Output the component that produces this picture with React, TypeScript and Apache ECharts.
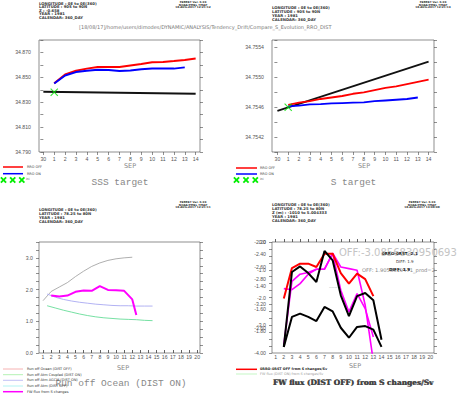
import React, { useEffect, useRef } from 'react';
import * as echarts from 'echarts';

// ---------- tick labels ----------
const topTickDays = [0, 1, 2, 3, 4, 5, 6, 7, 8, 9, 10, 11, 12, 13, 14];
const topTickLabels = ['30', '1', '2', '3', '4', '5', '6', '7', '8', '9', '10', '11', '12', '13', '14'];
const bottomTickDays = [1, 2, 3, 4, 5, 6, 7, 8, 9, 10, 11, 12, 13, 14, 15, 16, 17, 18, 19, 20];

// ---------- SSS target (top-left) ----------
const sssOffDays = [1, 2, 3, 4, 5, 6, 7, 8, 9, 10, 11, 12, 13, 14];
const sssRroOff = [34.8453, 34.8523, 34.8553, 34.857, 34.8583, 34.8583, 34.8583, 34.8596, 34.8608, 34.8621, 34.8624, 34.8632, 34.864, 34.8651];
const sssOnDays = [1, 2, 3, 4, 5, 6, 7, 8, 9, 10, 11, 12, 13];
const sssRroOn = [34.845, 34.8515, 34.8542, 34.8553, 34.8561, 34.8558, 34.855, 34.8555, 34.8564, 34.857, 34.857, 34.857, 34.858];
const sssTargetDays = [0, 14];
const sssTarget = [34.8384, 34.8368];
const sssIniDays = [1];
const sssIni = [34.838];

// ---------- S target (top-right) ----------
const sOffDays = [1, 2, 3, 4, 5, 6, 7, 8, 9, 10, 11, 12, 13, 14];
const sRroOff = [34.75463, 34.75466, 34.75468, 34.75471, 34.75473, 34.75475, 34.75478, 34.7548, 34.75483, 34.75486, 34.75488, 34.75491, 34.75494, 34.75497];
const sOnDays = [1, 2, 3, 4, 5, 6, 7, 8, 9, 10, 11, 12, 13];
const sRroOn = [34.75461, 34.75462, 34.754637, 34.75464, 34.75465, 34.754655, 34.75466, 34.754665, 34.75468, 34.75469, 34.7547, 34.75471, 34.75473];
const sTargetDays = [0, 14];
const sTarget = [34.75455, 34.75521];
const sIniDays = [1];
const sIni = [34.7546];

// ---------- Run off (bottom-left) ----------
const grayDays = [1, 2, 3, 4, 5, 6, 7, 8, 9, 10, 11, 12];
const grayVals = [1.65, 1.94, 2.08, 2.22, 2.41, 2.58, 2.73, 2.84, 2.92, 2.97, 3.0, 3.02];
const atmDays = [1.5, 2.5, 3.5, 4.5, 5.5, 6.5, 7.5, 8.5, 9.5, 10.5, 11.5, 12.5, 13.5, 14.5];
const atmActiveOn = [1.86, 1.76, 1.69, 1.64, 1.6, 1.57, 1.54, 1.52, 1.5, 1.49, 1.49, 1.48, 1.48, 1.48];
const atmCoupledOn = [1.49, 1.42, 1.35, 1.29, 1.23, 1.18, 1.14, 1.11, 1.09, 1.07, 1.06, 1.05, 1.03, 1.02];
const fwDays = [2, 3, 4, 5, 6, 7, 8, 9, 10, 11, 12, 12.5];
const fwFromS = [1.81, 1.78, 1.81, 1.93, 1.97, 1.96, 2.11, 1.99, 1.98, 1.96, 1.69, 1.2];

// ---------- FW flux (bottom-right) ----------
const brDays = [2, 3, 4, 5, 6, 7, 8, 9, 10, 11, 12, 13];
const brDays14 = [2, 3, 4, 5, 6, 7, 8, 9, 10, 11, 12, 13, 14];
const brRed = [-2.04, -0.94, -0.78, -0.78, -0.9, -0.42, -0.42, -1.12, -1.5, -1.14, -1.34, -1.95];
const brBlackUpper = [-3.78, -1.08, -0.88, -1.12, -1.44, -0.32, -0.66, -1.92, -2.67, -1.95, -1.84, -2.1, -3.52];
const brBlackLower = [-3.78, -2.7, -2.58, -2.7, -2.85, -2.34, -2.5, -3.09, -3.45, -3.06, -3.03, -3.16, -3.78];
const brMag1 = [-1.68, -1.72, -1.5, -1.16, -0.98, -0.98, -0.4, -0.9, -0.96, -1.02, -2.28, -4.3];
const brMag2 = [-3.7, -1.42, -1.16, -1.1, -0.98, -0.98, -0.42, -1.74, -2.52, -1.86, -2.4, -3.42];
const brAxisALabels = [-2.2, -2.4, -2.6, -2.8, -3.2, -3.6, -4.0];
const brAxisCLabels = [-1.4, -1.6, -1.8];

const zip = (xs: number[], ys: number[]) => xs.map((x, i) => [x, ys[i]]);

const LBL = { fontFamily: 'Liberation Sans, DejaVu Sans, sans-serif', fontSize: 5.2, color: '#555' };
const TICK = { color: '#444', width: 0.6 };
const XSYM = 'path://M0,1L1,0L5,4L9,0L10,1L6,5L10,9L9,10L5,6L1,10L0,9L4,5Z';

function xAxisDef(gridIndex: number, min: number, max: number, ticks: number[], fmt: any, position: string, showLabel: boolean, inside: boolean, margin: number) {
  return {
    type: 'value', gridIndex, min, max, position,
    axisLine: { show: false }, splitLine: { show: false },
    axisTick: { show: true, customValues: ticks, length: 3, inside, lineStyle: TICK },
    axisLabel: { show: showLabel, customValues: ticks, formatter: fmt, margin, ...LBL },
  };
}

function yAxisDef(gridIndex: number, min: number, max: number, interval: number, fmt: any, position: string, showLabel: boolean, showTick: boolean, margin: number) {
  return {
    type: 'value', gridIndex, min, max, interval, position,
    axisLine: { show: false }, splitLine: { show: false },
    axisTick: { show: showTick, length: 3, inside: false, lineStyle: TICK },
    axisLabel: { show: showLabel, formatter: fmt, margin, ...LBL },
  };
}

function txt(text: string, x: number, y: number, size: number, opts: any = {}) {
  return {
    type: 'text', x, y, z: 100,
    style: {
      text, fontSize: size, fontFamily: opts.family || 'DejaVu Sans, sans-serif',
      fill: opts.fill || '#222', fontWeight: opts.weight || 'normal',
      align: opts.align || 'left', verticalAlign: 'middle',
    },
  };
}
function ln(x1: number, y1: number, x2: number, y2: number, stroke: string, w: number) {
  return { type: 'line', z: 100, shape: { x1, y1, x2, y2 }, style: { stroke, lineWidth: w } };
}
function xMark(cx: number, cy: number, s: number) {
  return [ln(cx - s, cy - s, cx + s, cy + s, '#00ee00', 1.8), ln(cx - s, cy + s, cx + s, cy - s, '#00ee00', 1.8)];
}

function header(x: number, ys: number[], lines: string[]) {
  return lines.map((l, i) => txt(l, x, ys[i], 3.8, { weight: 'bold', fill: '#333' }));
}
function ferret(cx: number, y0: number, date: string) {
  return ['FERRET Ver. 6.93', 'NOAA/PMEL TMAP', date].map((l, i) => txt(l, cx, y0 + i * 2.6, 2.8, { align: 'center', weight: 'bold', fill: '#333' }));
}

function buildOption() {
  const topFmt = (v: number) => { const i = topTickDays.indexOf(Math.round(v)); return i >= 0 ? topTickLabels[i] : ''; };
  const botFmt = (v: number) => String(Math.round(v));

  const xAxis = [
    xAxisDef(0, -0.4, 14.4, topTickDays, topFmt, 'bottom', true, false, 4),
    xAxisDef(1, -0.5, 14.5, topTickDays, topFmt, 'bottom', true, false, 4),
    xAxisDef(2, 0.5, 20.35, bottomTickDays, botFmt, 'bottom', true, true, 1),
    xAxisDef(2, 0.5, 20.35, bottomTickDays, botFmt, 'top', false, false, 1),
    xAxisDef(3, 0.55, 20.45, bottomTickDays, botFmt, 'bottom', true, true, 1),
    xAxisDef(3, 0.55, 20.45, bottomTickDays, botFmt, 'top', false, false, 1),
  ];

  const fmtTL = (v: number) => { const k = Math.round((v - 34.79) / 0.01); return k % 2 === 0 ? v.toFixed(3) : ''; };
  const fmtTR = (v: number) => { const k = Math.round((v - 34.754) / 0.0002); return k % 2 === 1 && k < 8 ? v.toFixed(4) : ''; };
  const fmtBL = (v: number) => { const k = Math.round(v * 4); return k % 4 === 0 ? v.toFixed(1) : ''; };
  const fmtBRB = (v: number) => { const k = Math.round(v * 4); return k % 4 === 0 && k > -16 ? (k === 0 ? '0.0' : v.toFixed(1)) : ''; };
  const fmtBRA = (v: number) => brAxisALabels.some((a) => Math.abs(a - v) < 1e-6) ? v.toFixed(2) : '';
  const fmtBRC = (v: number) => brAxisCLabels.some((a) => Math.abs(a - v) < 1e-6) ? v.toFixed(2) : '';

  const yAxis = [
    yAxisDef(0, 34.79, 34.88, 0.01, fmtTL, 'left', true, true, 8),
    yAxisDef(0, 34.79, 34.88, 0.01, '', 'right', false, true, 4),
    yAxisDef(1, 34.754, 34.7555, 0.0002, fmtTR, 'left', true, true, 8),
    yAxisDef(1, 34.754, 34.7555, 0.0002, '', 'right', false, true, 4),
    yAxisDef(2, 0, 3.5, 0.25, fmtBL, 'left', true, true, 6),
    yAxisDef(2, 0, 3.5, 0.25, '', 'right', false, true, 4),
    yAxisDef(3, -4, 0, 0.25, fmtBRB, 'left', true, true, 6),
    yAxisDef(3, -4, -2.2, 0.2, fmtBRA, 'left', true, false, 6),
    yAxisDef(3, -2, -1, 0.1, fmtBRC, 'left', true, false, 6),
    yAxisDef(3, -4, 0, 0.25, '', 'right', false, true, 4),
  ];

  const line = (name: string, xi: number, yi: number, data: number[][], color: string, width: number, z = 2) => ({
    name, type: 'line', xAxisIndex: xi, yAxisIndex: yi, data, showSymbol: false, symbol: 'none', z,
    lineStyle: { color, width }, itemStyle: { color }, clip: true,
  });
  const ini = (xi: number, yi: number, data: number[][]) => ({
    name: 'ini', type: 'scatter', xAxisIndex: xi, yAxisIndex: yi, data, symbol: XSYM, symbolSize: 8, z: 5,
    itemStyle: { color: '#00e000' },
  });

  const series = [
    line('target', 0, 0, zip(sssTargetDays, sssTarget), '#111', 2),
    line('RRO OFF', 0, 0, zip(sssOffDays, sssRroOff), '#ff0000', 2),
    line('RRO ON', 0, 0, zip(sssOnDays, sssRroOn), '#0000ff', 2, 3),
    ini(0, 0, zip(sssIniDays, sssIni)),

    line('target', 1, 2, zip(sTargetDays, sTarget), '#111', 1.8),
    line('RRO OFF', 1, 2, zip(sOffDays, sRroOff), '#ff0000', 1.8),
    line('RRO ON', 1, 2, zip(sOnDays, sRroOn), '#0000ff', 1.8, 3),
    ini(1, 2, zip(sIniDays, sIni)),

    line('gray', 2, 4, zip(grayDays, grayVals), '#9a9a9a', 0.8),
    line('Run off Atm A (DIST ON)', 2, 4, zip(atmDays, atmActiveOn), '#a9a9f2', 0.9),
    line('Run off Atm Coupled (DIST ON)', 2, 4, zip(atmDays, atmCoupledOn), '#66dd99', 0.9),
    line('FW flux from S changes', 2, 4, zip(fwDays, fwFromS), '#ff00ff', 2, 4),

    line('red', 4, 6, zip(brDays, brRed), '#ff0000', 2, 3),
    line('mag1', 4, 6, zip(brDays, brMag1), '#ff00ff', 1.6, 2),
    line('mag2', 4, 6, zip(brDays, brMag2), '#ff00ff', 1.6, 2),
    line('blackU', 4, 6, zip(brDays14, brBlackUpper), '#000', 2, 4),
    line('blackL', 4, 6, zip(brDays14, brBlackLower), '#000', 2, 4),
  ];

  const graphic: any[] = [
    // headers
    ...header(39, [3.3, 6.7, 10, 13.3, 17], ['LONGITUDE : 0E to 0E(360)', 'LATITUDE : 90S to 90N', 'Z : -0.658', 'YEAR : 1981', 'CALENDAR: 360_DAY']),
    ...ferret(193, 1.8, '18-AUG-2017 12:21:12'),
    ...header(272, [7.7, 11.7, 15.7, 19.7], ['LONGITUDE : 0E to 0E(360)', 'LATITUDE : 90S to 90N', 'YEAR : 1981', 'CALENDAR: 360_DAY']),
    ...ferret(433, 1.8, '18-AUG-2017 12:21:13'),
    ...header(39, [209, 213, 217, 221], ['LONGITUDE : 0E to 0E(360)', 'LATITUDE : 78.25 to 80N', 'YEAR : 1981', 'CALENDAR: 360_DAY']),
    ...ferret(193, 201.8, '18-AUG-2017 12:21:11'),
    ...header(272, [204.3, 208.3, 212.3, 216.5, 220.5], ['LONGITUDE : 0E to 0E(360)', 'LATITUDE : 78.25 to 80N', 'Z (m) : -1010 to 5.004333', 'YEAR : 1981', 'CALENDAR: 360_DAY']),
    ...ferret(422, 201.8, '18-AUG-2017 13:08:08'),
    txt('[18/08/17]/home/users/dimodes/DYNAMIC/ANALYSIS/Tendency_Drift/Compare_S_Evolution_RRO_DIST', 79, 26.5, 5, { fill: '#777' }),

    // SEP labels
    txt('SEP', 130, 165.5, 6.5, { align: 'center', fill: '#888' }),
    txt('SEP', 364, 165.5, 6.5, { align: 'center', fill: '#888' }),
    txt('SEP', 123, 368, 6.5, { align: 'center', fill: '#888' }),
    txt('SEP', 355, 366, 6.5, { align: 'center', fill: '#888' }),

    // titles
    txt('SSS target', 120, 182, 9.5, { align: 'center', fill: '#888', family: 'Liberation Mono, DejaVu Sans Mono, monospace' }),
    txt('S target', 353.5, 182, 9.5, { align: 'center', fill: '#888', family: 'Liberation Mono, DejaVu Sans Mono, monospace' }),
    txt('Run off Ocean (DIST ON)', 121, 383, 9.5, { align: 'center', fill: '#888', family: 'Liberation Mono, DejaVu Sans Mono, monospace' }),
    txt('FW flux (DIST OFF) from S changes/Sv', 353, 382, 7.4, { align: 'center', fill: '#444', weight: 'bold', family: 'DejaVu Serif, serif' }),
    txt('FW flux (DIST OFF) from S changes/Sv', 353.6, 382.4, 7.4, { align: 'center', fill: '#444', weight: 'bold', family: 'DejaVu Serif, serif' }),

    // top-left legend
    ln(3, 167, 23, 167, '#ff0000', 1.5), txt('RRO OFF', 27, 167, 3.4, { fill: '#444' }),
    ln(3, 173.7, 23, 173.7, '#0000ff', 1.5), txt('RRO ON', 27, 173.7, 3.4, { fill: '#444' }),
    ...xMark(3.5, 180, 2.6), ...xMark(12.7, 180, 2.6), ...xMark(21.8, 180, 2.6), txt('ini', 26, 179, 3, { fill: '#444' }),
    // top-right legend
    ln(236, 168, 257, 168, '#ff0000', 1.5), txt('RRO OFF', 260, 168, 3.4, { fill: '#444' }),
    ln(236, 174, 257, 174, '#0000ff', 1.5), txt('RRO ON', 260, 174, 3.4, { fill: '#444' }),
    ...xMark(236.5, 180, 2.6), ...xMark(246, 180, 2.6), ...xMark(255.3, 180, 2.6), txt('ini', 260, 179, 3, { fill: '#444' }),
    // bottom-left legend
    ln(3, 369, 23, 369, '#f4a0a0', 0.8), txt('Run off Ocean (DIST OFF)', 27, 369, 3.5, { fill: '#333' }),
    ln(3, 374.7, 23, 374.7, '#a0eea0', 0.8), txt('Run off Atm Coupled (DIST ON)', 27, 374.7, 3.5, { fill: '#333' }),
    ln(3, 380.3, 23, 380.3, '#b0b0f2', 0.8), txt('Run off Atm AGCM (DIST ON)', 27, 380.3, 3.5, { fill: '#333' }),
    ln(3, 386, 23, 386, '#a0f0f0', 0.8), txt('Run off Atm (DIST OFF)', 27, 386, 3.5, { fill: '#333' }),
    ln(3, 391.7, 23, 391.7, '#ff00ff', 1.5), txt('FW flux from S changes', 27, 391.7, 3.5, { fill: '#333' }),
    // bottom-right legend
    ln(236, 369.3, 257, 369.3, '#ff0000', 1.5), txt('0RRO-0RST OFF from S changes/Sv', 260, 369.3, 3.4, { fill: '#222', weight: 'bold' }),
    ln(236, 374, 257, 374, '#a0f0a0', 0.6), txt('FW flux (DIST ON) from S changes/Sv', 260, 374, 3.4, { fill: '#999' }),

    // bottom-right annotations
    txt('OFF:-3.0856830950693', 339, 252.5, 10, { fill: '#c4c4c4' }),
    txt('0RRO-0RST:-2.1', 382, 253, 4, { fill: '#222', weight: 'bold' }),
    txt('DIFF: 1.9', 396, 261.5, 4, { fill: '#333' }),
    txt('OFF: 1.9058619471_prod=2', 362, 269.5, 5.2, { fill: '#888' }),
    txt('DIFF: 1.9', 389, 269.5, 4.2, { fill: '#222', weight: 'bold' }),
    txt('--------', 329, 287, 3, { fill: '#666' }),
  ];

  const gridBase = { show: true, borderColor: '#444', borderWidth: 0.6, backgroundColor: 'transparent', containLabel: false, outerBoundsMode: 'none' };
  return {
    animation: false,
    backgroundColor: '#ffffff',
    grid: [
      { ...gridBase, left: 39, top: 40, width: 161, height: 112 },
      { ...gridBase, left: 272, top: 40, width: 162, height: 112 },
      { ...gridBase, left: 39, top: 242, width: 161, height: 111 },
      { ...gridBase, left: 272, top: 242, width: 162, height: 111 },
    ],
    xAxis, yAxis, series, graphic,
  };
}

export default function App() {
  const ref = useRef<HTMLDivElement>(null);
  useEffect(() => {
    document.body.style.margin = '0';
    if (!ref.current) return;
    const chart = echarts.init(ref.current, undefined, { renderer: 'svg' });
    chart.setOption(buildOption() as any);
    return () => chart.dispose();
  }, []);
  return <div ref={ref} style={{ width: 463, height: 395 }} />;
}
